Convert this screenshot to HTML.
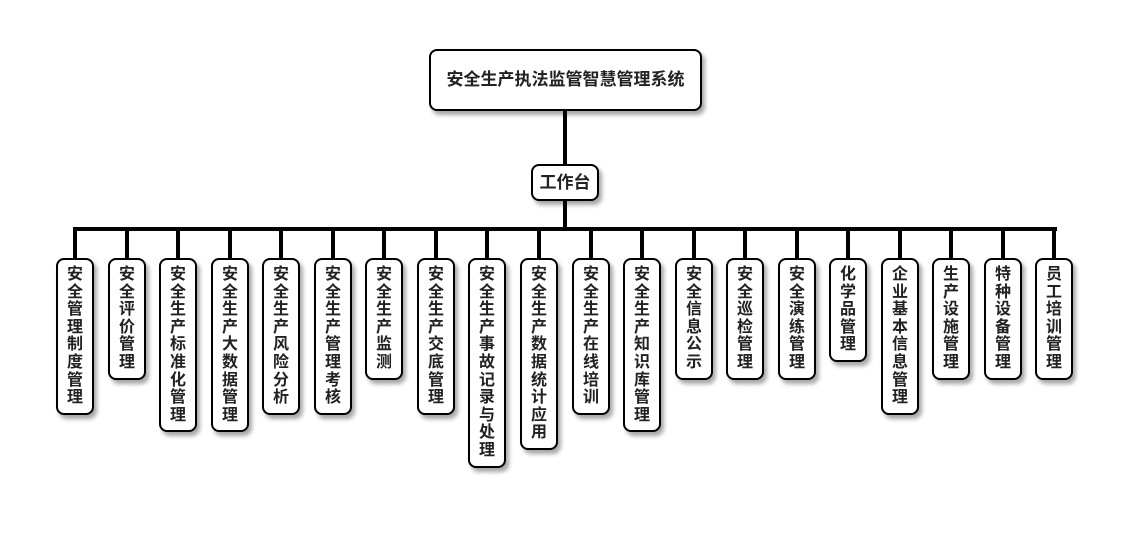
<!DOCTYPE html>
<html><head><meta charset="utf-8"><style>
body{margin:0;width:1130px;height:560px;background:#fff;position:relative;font-family:"Liberation Sans","Noto Sans CJK SC",sans-serif;font-weight:bold;color:#222;overflow:hidden}
.b{position:absolute;background:#fff;border:2px solid #000;border-radius:8px;box-shadow:3px 4px 4px rgba(0,0,0,.35);box-sizing:border-box}
.l{position:absolute;background:#000}
.c{width:38px;top:258px;font-size:16px;line-height:17.6px;text-align:center;padding:6px 0 6px;writing-mode:horizontal-tb}
.c span{display:block}
</style></head><body>
<div class="l" style="left:563px;top:111px;width:4px;height:54px"></div>
<div class="l" style="left:563px;top:200px;width:4px;height:30px"></div>
<div class="l" style="left:73px;top:227px;width:984px;height:4px"></div>
<div class="b" style="left:429px;top:49px;width:273px;height:62px;font-size:17px;line-height:58px;text-align:center">安全生产执法监管智慧管理系统</div>
<div class="b" style="left:531px;top:164px;width:68px;height:37px;font-size:17px;line-height:33px;text-align:center">工作台</div>
<div id="k"></div>
<script>
var n=["安全管理制度管理","安全评价管理","安全生产标准化管理","安全生产大数据管理","安全生产风险分析","安全生产管理考核","安全生产监测","安全生产交底管理","安全生产事故记录与处理","安全生产数据统计应用","安全生产在线培训","安全生产知识库管理","安全信息公示","安全巡检管理","安全演练管理","化学品管理","企业基本信息管理","生产设施管理","特种设备管理","员工培训管理"];
var h="";
for(var i=0;i<n.length;i++){var cx=Math.round(75+i*51.55);
h+='<div class="l" style="left:'+(cx-2)+'px;top:229px;width:4px;height:30px"></div>';
h+='<div class="b c" style="left:'+(cx-19)+'px">'+n[i].split("").map(function(s){return "<span>"+s+"</span>"}).join("")+'</div>';}
document.getElementById("k").innerHTML=h;
</script>
</body></html>
